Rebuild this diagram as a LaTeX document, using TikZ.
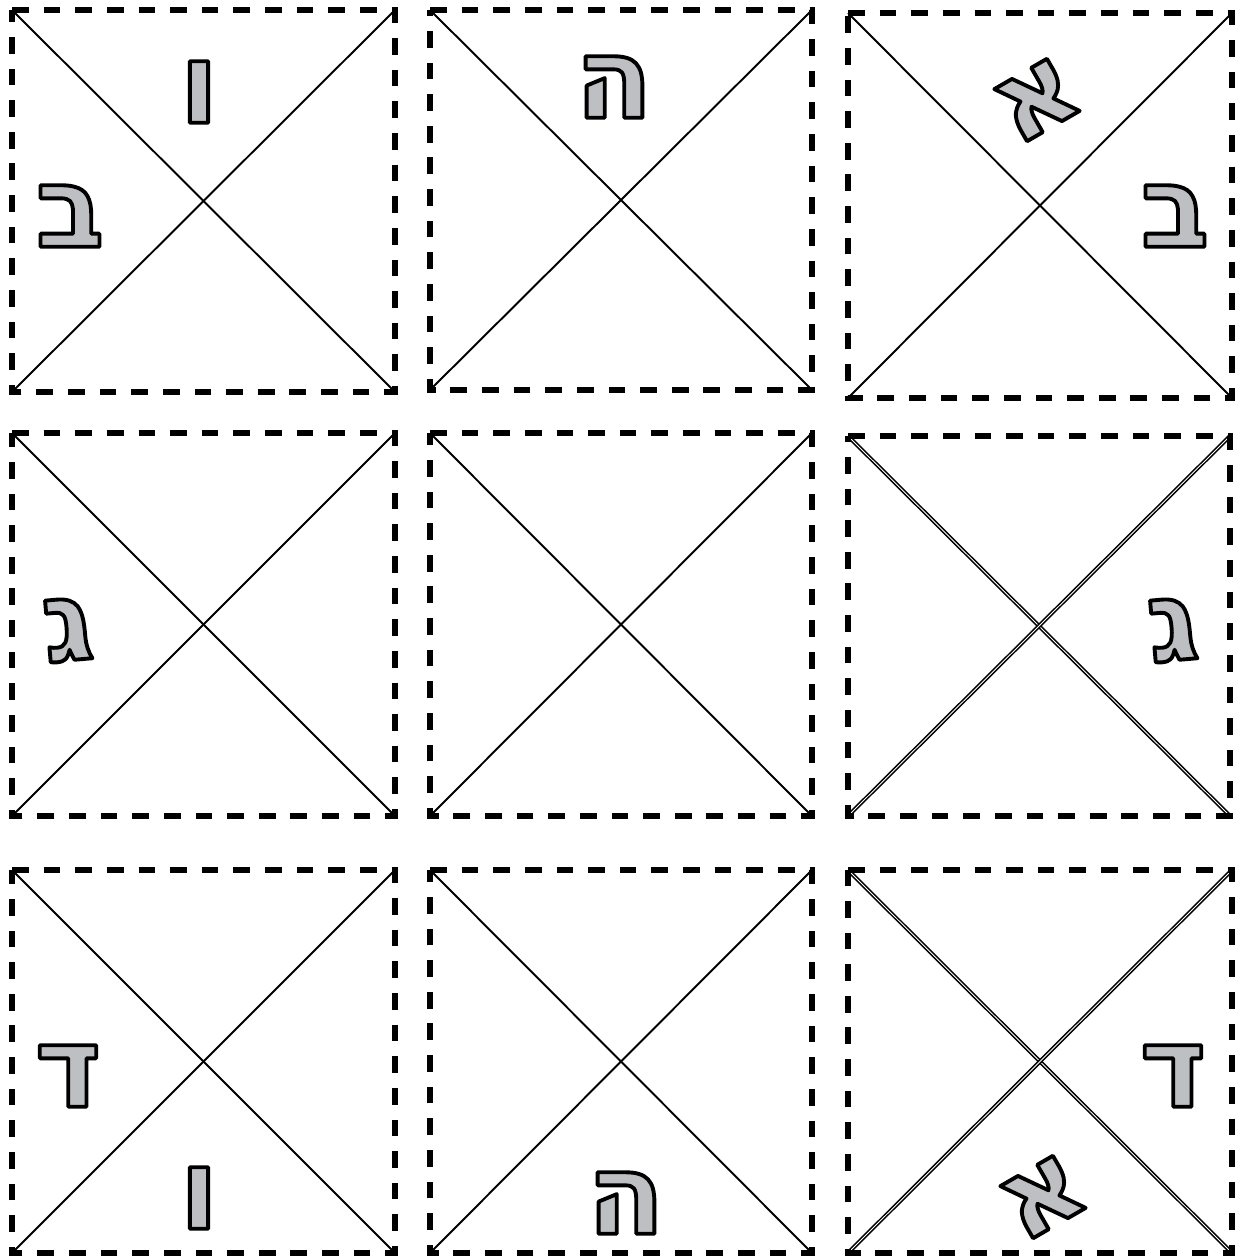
\documentclass[tikz,border=0pt]{standalone}
\usepackage{fontspec}
\TeXXeTstate=1
\newfontfamily\hebfont[Script=Hebrew, FakeStretch=1.0]{DejaVu Sans}
\definecolor{letgray}{RGB}{190,191,194}
\newcommand{\outl}[1]{\special{pdf:literal direct 0 G 2 Tr 2.2 w 1 j}\beginR #1\endR\special{pdf:literal direct 0 Tr}}
\newcommand{\hebl}[5]{%
  \node[letter, rotate=#4] (#1) at (#2,#3) {\outl{#5}};
}
\begin{document}
\begin{tikzpicture}[x=0.02cm,y=-0.02cm,
  cell/.style={draw=black, line width=3.1pt, dash pattern=on 9.5pt off 8.5pt},
  diag/.style={draw=black, line width=1.1pt},
  diagdbl/.style={draw=black, line width=0.9pt, double=white, double distance=0.5pt},
  letter/.style={font=\hebfont\bfseries\fontsize{64}{64}\selectfont, text=letgray, inner sep=0pt}]
\useasboundingbox (0,0) rectangle (1241,1258);
\fill[white] (0,0) rectangle (1241,1258);

\foreach \n/\xa/\ya/\xb/\yb/\st in {
  s1/12/10/395/392/diag, s2/430/10/812/390/diag, s3/848/13/1232/398/diag,
  s4/12/433/395/816/diag, s5/430/433/812/816/diag, s6/848/436/1230/816/diagdbl,
  s7/12/870/395/1253/diag, s8/430/870/812/1253/diag, s9/848/870/1232/1253/diagdbl} {
  \coordinate (\n nw) at (\xa,\ya);
  \coordinate (\n ne) at (\xb,\ya);
  \coordinate (\n se) at (\xb,\yb);
  \coordinate (\n sw) at (\xa,\yb);
  \draw[\st] (\n nw) -- (\n se);
  \draw[\st] (\n sw) -- (\n ne);
  \draw[cell] (\n nw) -- (\n ne) -- (\n se) -- (\n sw) -- cycle;
}

\hebl{l1}{199}{92}{0}{ו}
\hebl{l2}{70}{216}{0}{ב}
\hebl{l3}{614}{87}{0}{ה}
\hebl{l4}{1037}{100}{30}{א}
\hebl{l5}{1175}{216}{0}{ב}
\hebl{l6}{68}{630}{5}{ג}
\hebl{l7}{1173}{630}{5}{ג}
\hebl{l8}{68}{1076}{0}{ד}
\hebl{l9}{199}{1198}{0}{ו}
\hebl{l10}{626}{1203}{0}{ה}
\hebl{l11}{1173}{1076}{0}{ד}
\hebl{l12}{1043}{1197}{30}{א}
\end{tikzpicture}
\end{document}
